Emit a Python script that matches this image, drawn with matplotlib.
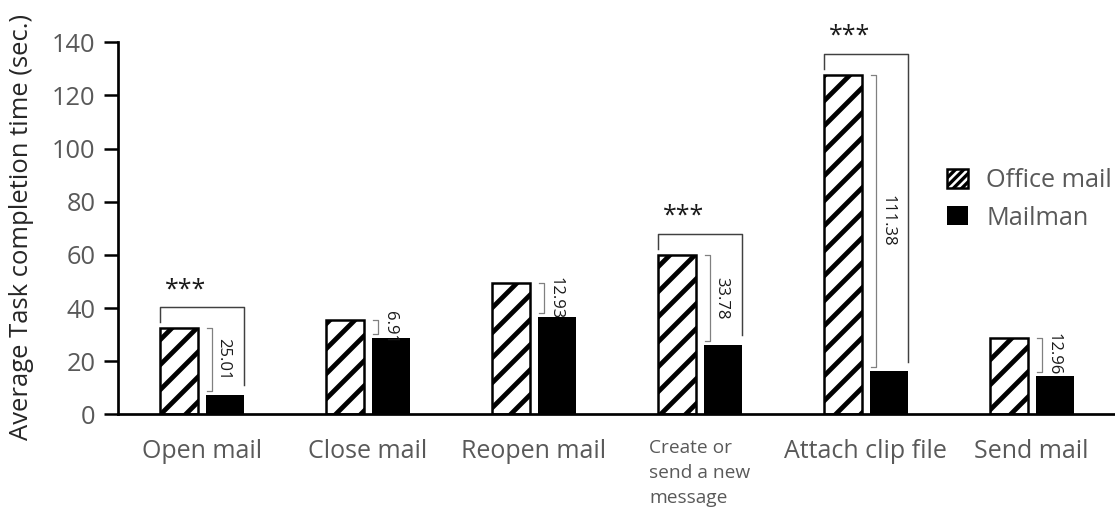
import numpy as np
import matplotlib
matplotlib.use('Agg')
import matplotlib.pyplot as plt
from matplotlib.patches import Patch

# --- data ---
tasks = ['Open mail', 'Close mail', 'Reopen mail',
         'Create or\nsend a new\nmessage', 'Attach clip file', 'Send mail']
office_mail = [32.4, 35.6, 49.6, 60.0, 127.8, 28.8]
mailman = [7.4, 28.6, 36.7, 26.2, 16.2, 14.6]
differences = [25.01, 6.91, 12.93, 33.78, 111.38, 12.96]
significant = [True, False, False, True, True, False]
y_ticks = [0, 20, 40, 60, 80, 100, 120, 140]

plt.rcParams['font.family'] = ['Open Sans', 'DejaVu Sans']
plt.rcParams['hatch.linewidth'] = 2.3

W, H, DPI = 1115, 509, 150
fig = plt.figure(figsize=(W / DPI, H / DPI), dpi=DPI)
ax = fig.add_axes([117.7 / W, 1 - 414.3 / H, (W - 117.7) / W, 372 / H])

x = np.arange(len(tasks))
off, bw = 0.139, 0.229
ax.bar(x - off, office_mail, bw, facecolor='white', edgecolor='black',
       hatch='//', linewidth=1.2)
ax.bar(x + off, mailman, bw, color='black', linewidth=0)

# --- axes formatting ---
ax.set_xlim(-0.506, 5.502)
ax.set_ylim(0, 140)
ax.set_yticks(y_ticks)
ax.tick_params(axis='y', length=6.7, width=1.2, pad=4.0, labelsize=12.2,
               labelcolor='#595959')
ax.set_xticks(x)
ax.set_xticklabels(tasks)
ax.tick_params(axis='x', length=0, pad=12, labelsize=12.0, labelcolor='#595959')
lab = ax.get_xticklabels()[3]
lab.set_fontsize(9.2)
lab.set_multialignment('left')
lab.set_linespacing(1.5)
for s in ['top', 'right']:
    ax.spines[s].set_visible(False)
for s in ['left', 'bottom']:
    ax.spines[s].set_linewidth(1.3)

fig.text(22 / W, 1 - 226.5 / H, 'Average Task completion time (sec.)',
         rotation=90, ha='center', va='center', fontsize=12.3, color='#262626')

# --- difference brackets and significance brackets ---
for i in range(len(tasks)):
    o, m = office_mail[i], mailman[i]
    bx = x[i] + 0.06
    low = m + 1.5
    ax.plot([bx - 0.028, bx, bx, bx - 0.028], [o, o, low, low],
            color='#808080', lw=0.6, clip_on=False)
    ax.text(bx + 0.072, (o + low) / 2, f'{differences[i]:.2f}', rotation=270,
            ha='center', va='center', fontsize=8, color='#1a1a1a')
    if significant[i]:
        left = x[i] - off - bw / 2
        right = x[i] + off + bw / 2
        top = o + 7.8
        ax.plot([left, left, right, right], [o + 2.3, top, top, m + 3.5],
                color='#404040', lw=0.7, clip_on=False)
        ax.text(x[i] - off + 0.04, o + 14.5, '***', ha='center', va='center',
                fontsize=12, color='#1a1a1a', clip_on=False)

# --- legend ---
handles = [Patch(facecolor='white', edgecolor='black', hatch='//////',
                 linewidth=1.2, label='Office mail'),
           Patch(facecolor='black', label='Mailman')]
leg = ax.legend(handles=handles, loc='upper left',
                bbox_to_anchor=(947 / W, 1 - 168 / H),
                bbox_transform=fig.transFigure, frameon=False, borderpad=0,
                fontsize=12.1, handlelength=0.85, handleheight=0.8,
                handletextpad=0.7, labelspacing=0.5, borderaxespad=0)
for t in leg.get_texts():
    t.set_color('#595959')
for p in leg.get_patches():
    if hasattr(p, 'set_hatch_linewidth'):
        p.set_hatch_linewidth(1.6)

fig.savefig('out.png', dpi=DPI)
